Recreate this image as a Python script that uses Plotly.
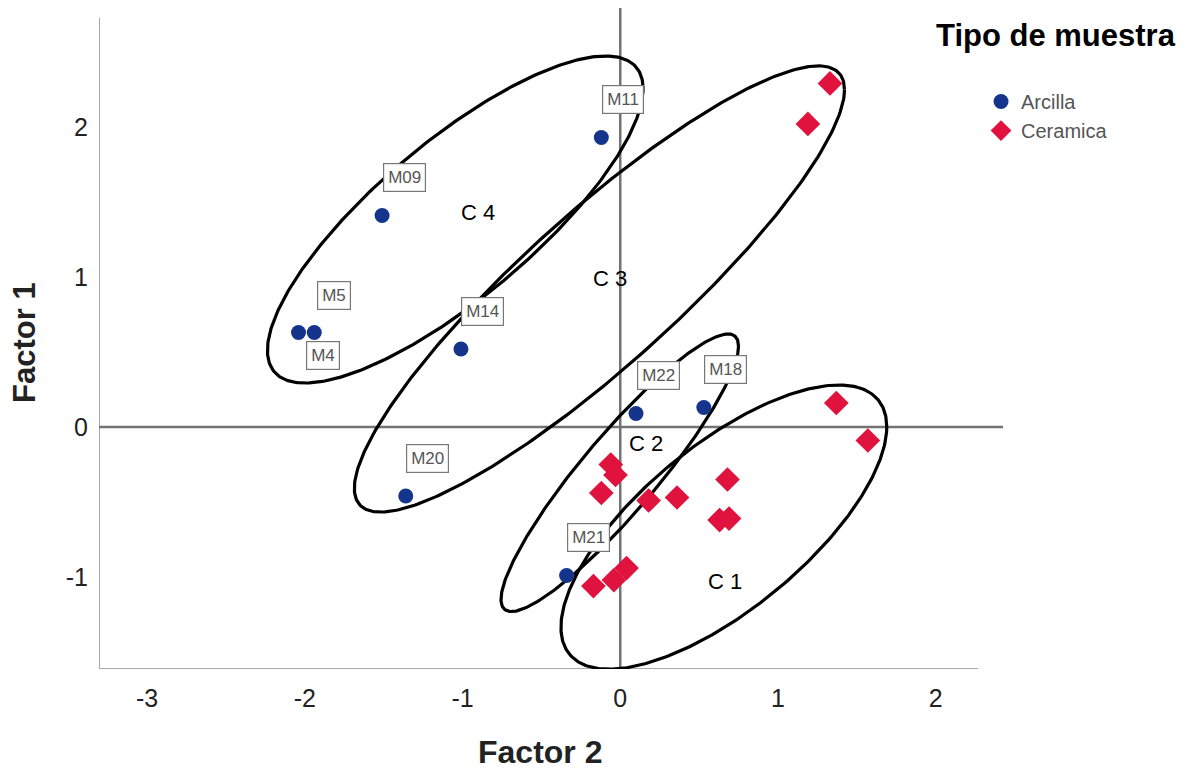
import numpy as np
import plotly.graph_objects as go

# ---------------- data ----------------
arcilla_labels = ["M11", "M09", "M5", "M4", "M14", "M20", "M22", "M18", "M21"]
arcilla_x = [-0.12, -1.51, -1.94, -2.04, -1.01, -1.36, 0.10, 0.53, -0.34]
arcilla_y = [1.93, 1.41, 0.63, 0.63, 0.52, -0.46, 0.09, 0.13, -0.99]

ceramica_x = [1.33, 1.19, 1.37, 1.57, -0.06, -0.03, -0.12, 0.18, 0.36, 0.68, 0.63, 0.69, 0.04, -0.04, -0.17]
ceramica_y = [2.29, 2.02, 0.16, -0.09, -0.25, -0.32, -0.44, -0.49, -0.47, -0.35, -0.62, -0.61, -0.94, -1.02, -1.06]

cluster_names = ["C 1", "C 2", "C 3", "C 4"]
cluster_cx = [0.657, -0.003, -0.132, -1.046]
cluster_cy = [-0.667, -0.305, 0.92, 1.383]
cluster_wx = [1.033, 0.753, 1.554, 1.191]
cluster_hy = [0.947, 0.925, 1.487, 1.09]
cluster_rho = [0.705, 0.912, 0.893, 0.80]
cluster_label_x = [0.665, 0.165, -0.063, -0.90]
cluster_label_y = [-1.033, -0.107, 0.993, 1.427]

x_ticks = [-3, -2, -1, 0, 1, 2]
x_tick_text = ["-3", "-2", "-1", "0", "1", "2"]
y_ticks = [-1, 0, 1, 2]
y_tick_text = ["-1", "0", "1", "2"]

# ---------------- styling ----------------
FONT = "Liberation Sans, Arial, sans-serif"
BLUE = "#15358c"
RED = "#e0123e"
X_RANGE = [-3.305, 2.427]
Y_RANGE = [-1.613, 2.793]
X_AXIS_END = 2.27
Y_AXIS_END = 2.73

label_shift = {"M4": (24, -23), "M5": (20, 37)}
default_shift = (22, 38)

fig = go.Figure()

# ellipses
phi = np.linspace(0, 2 * np.pi, 361)
for cx, cy, wx, hy, rho in zip(cluster_cx, cluster_cy, cluster_wx, cluster_hy, cluster_rho):
    d = np.arccos(rho)
    fig.add_trace(go.Scatter(
        x=cx + wx * np.cos(phi), y=cy + hy * np.cos(phi - d),
        mode="lines", line=dict(color="black", width=3.2),
        showlegend=False, hoverinfo="skip"))

fig.add_trace(go.Scatter(
    x=arcilla_x, y=arcilla_y, mode="markers", name="Arcilla",
    marker=dict(symbol="circle", size=15, color=BLUE)))
fig.add_trace(go.Scatter(
    x=ceramica_x, y=ceramica_y, mode="markers", name="Ceramica",
    marker=dict(symbol="diamond", size=19, color=RED)))

# point labels
for lab, x, y in zip(arcilla_labels, arcilla_x, arcilla_y):
    sx, sy = label_shift.get(lab, default_shift)
    fig.add_annotation(x=x, y=y, text=lab, showarrow=False, xshift=sx, yshift=sy,
                       font=dict(family=FONT, size=17, color="#555555"),
                       bordercolor="#777777", borderwidth=1.2, borderpad=4, bgcolor="white")

# cluster labels
for name, x, y in zip(cluster_names, cluster_label_x, cluster_label_y):
    fig.add_annotation(x=x, y=y, text=name, showarrow=False,
                       font=dict(family=FONT, size=22, color="black"))

# axis lines (frame) and zero lines
fig.add_shape(type="line", x0=X_RANGE[0], x1=X_RANGE[0], y0=Y_RANGE[0], y1=Y_AXIS_END,
              line=dict(color="#aaaaaa", width=2), layer="below")
fig.add_shape(type="line", x0=X_RANGE[0], x1=X_AXIS_END, y0=Y_RANGE[0], y1=Y_RANGE[0],
              line=dict(color="#aaaaaa", width=2), layer="below")
fig.add_shape(type="line", x0=X_RANGE[0], x1=X_RANGE[1], y0=0, y1=0,
              line=dict(color="#737373", width=2.5), layer="below")
fig.add_shape(type="line", x0=0, x1=0, y0=Y_RANGE[0], y1=Y_RANGE[1],
              line=dict(color="#737373", width=2.5), layer="below")

# axis titles and legend title
fig.add_annotation(xref="paper", yref="paper", x=0.4878, y=-0.1256, xanchor="center", yanchor="middle",
                   text="<b>Factor 2</b>", showarrow=False,
                   font=dict(family=FONT, size=32, color="#222222"))
fig.add_annotation(xref="paper", yref="paper", x=-0.0824, y=0.494, xanchor="center", yanchor="middle",
                   text="<b>Factor 1</b>", showarrow=False, textangle=-90,
                   font=dict(family=FONT, size=31, color="#222222"))
fig.add_annotation(xref="paper", yref="paper", x=0.924, y=0.959, xanchor="left", yanchor="middle",
                   text="<b>Tipo de muestra</b>", showarrow=False,
                   font=dict(family=FONT, size=31, color="black"))

fig.update_xaxes(range=X_RANGE, tickvals=x_ticks, ticktext=x_tick_text, showgrid=False,
                 zeroline=False, showline=False,
                 ticks="outside", ticklen=7, tickcolor="rgba(0,0,0,0)",
                 tickfont=dict(family=FONT, size=25, color="#222222"))
fig.update_yaxes(range=Y_RANGE, tickvals=y_ticks, ticktext=y_tick_text, showgrid=False,
                 zeroline=False, showline=False,
                 ticks="outside", ticklen=5, tickcolor="rgba(0,0,0,0)",
                 tickfont=dict(family=FONT, size=25, color="#222222"))

fig.update_layout(
    width=1192, height=774,
    margin=dict(l=91, r=197, t=0, b=113),
    plot_bgcolor="white", paper_bgcolor="white",
    font=dict(family=FONT),
    legend=dict(x=0.9757, y=0.888, xanchor="left", yanchor="top",
                font=dict(family=FONT, size=20, color="#555555"),
                bgcolor="rgba(0,0,0,0)", tracegroupgap=0, itemwidth=30),
)

fig.write_html("out.html")
